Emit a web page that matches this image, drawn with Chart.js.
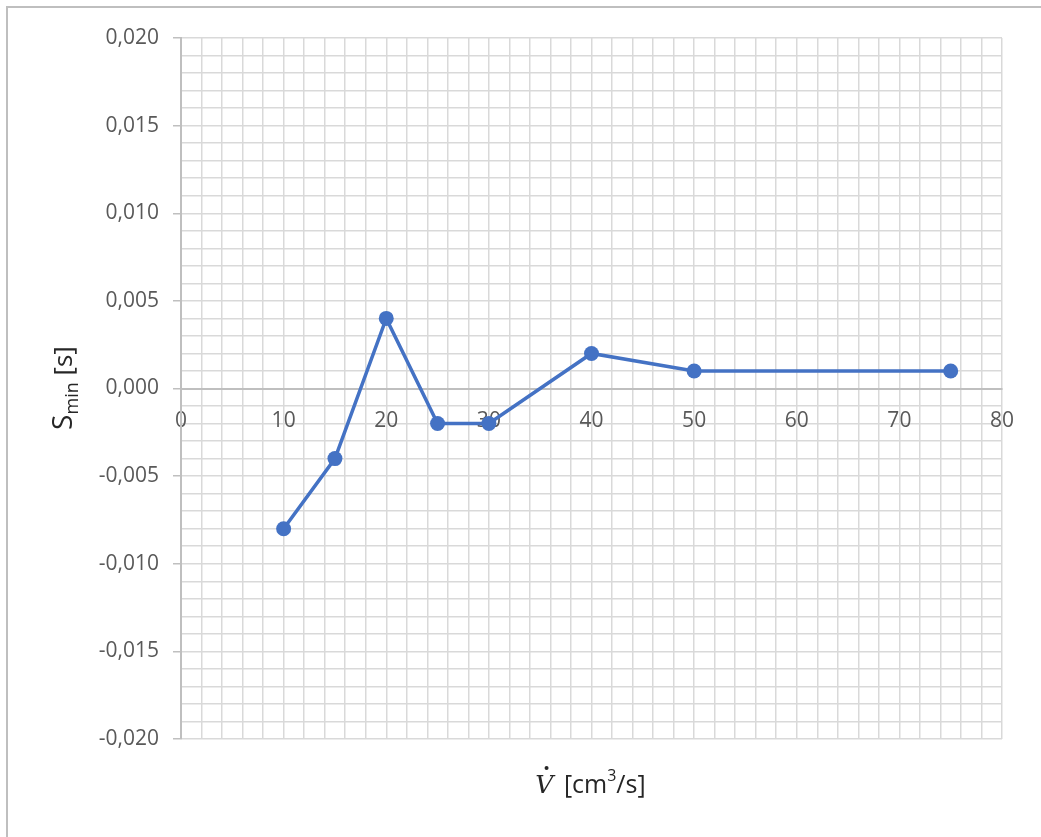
<!DOCTYPE html>
<html>
<head>
<meta charset="utf-8">
<script src="https://cdn.jsdelivr.net/npm/chart.js@4.4.1/dist/chart.umd.min.js"></script>
<style>
  html, body { margin: 0; padding: 0; background: #fff; }
  #wrap { position: relative; width: 1041px; height: 837px; }
</style>
</head>
<body>
<div id="wrap"><canvas id="chart" width="1041" height="837"></canvas></div>
<script>
// measured flow rates and the resulting S_min values
const flowRates = [10, 15, 20, 25, 30, 40, 50, 75];
const sMin = [-0.008, -0.004, 0.004, -0.002, -0.002, 0.002, 0.001, 0.001];

// axis ranges
const xMin = 0, xMax = 80, xStep = 2, xLabelEvery = 10;
const yMin = -0.020, yMax = 0.020, yStep = 0.001, yLabelEvery = 5;

const labelColor = "#595959";
const gridColor = "#d9d9d9";
const lineColor = "#4472c4";
const font = "'Open Sans', 'Liberation Sans', sans-serif";

const points = flowRates.map((x, i) => ({ x: x, y: sMin[i] }));

// axis titles with sub/superscripts, plus the frame lines
const titlesPlugin = {
  id: "titles",
  afterDraw(chart) {
    const ctx = chart.ctx;
    const area = chart.chartArea;
    ctx.save();

    // frame
    ctx.strokeStyle = "#bfbfbf";
    ctx.lineWidth = 2;
    ctx.beginPath();
    ctx.moveTo(7, 837);
    ctx.lineTo(7, 7);
    ctx.lineTo(1041, 7);
    ctx.stroke();

    ctx.fillStyle = "#262626";
    ctx.textBaseline = "alphabetic";

    // y title: S_min [s], rotated
    ctx.save();
    ctx.translate(72, 388);
    ctx.rotate(-Math.PI / 2);
    ctx.font = "28px " + font;
    const wS = ctx.measureText("S").width;
    ctx.font = "18px " + font;
    const wMin = ctx.measureText("min").width;
    ctx.font = "26px " + font;
    const wRest = ctx.measureText(" [s]").width;
    let x = -(wS + wMin + wRest) / 2;
    ctx.font = "28px " + font;
    ctx.fillText("S", x, 0);
    x += wS;
    ctx.font = "18px " + font;
    ctx.fillText("min", x, 6);
    x += wMin;
    ctx.font = "26px " + font;
    ctx.fillText(" [s]", x, 0);
    ctx.restore();

    // x title: V-dot [cm^3/s]
    const cx = (area.left + area.right) / 2 - 3;
    const by = 793;
    ctx.font = "italic 25px 'DejaVu Serif', 'Liberation Serif', serif";
    const wV = ctx.measureText("V").width;
    ctx.font = "25px " + font;
    const w1 = ctx.measureText(" [cm").width;
    ctx.font = "16px " + font;
    const w3 = ctx.measureText("3").width;
    ctx.font = "25px " + font;
    const w2 = ctx.measureText("/s]").width;
    let tx = cx - (wV + w1 + w3 + w2) / 2;
    ctx.font = "italic 25px 'DejaVu Serif', 'Liberation Serif', serif";
    ctx.fillText("V", tx, by);
    ctx.beginPath();
    ctx.arc(tx + wV * 0.62, by - 25, 2, 0, Math.PI * 2);
    ctx.fill();
    tx += wV + 4;
    ctx.font = "25px " + font;
    ctx.fillText(" [cm", tx, by);
    tx += w1;
    ctx.font = "16px " + font;
    ctx.fillText("3", tx, by - 12);
    tx += w3;
    ctx.font = "25px " + font;
    ctx.fillText("/s]", tx, by);

    ctx.restore();
  }
};

new Chart(document.getElementById("chart"), {
  type: "scatter",
  data: {
    datasets: [{
      data: points,
      showLine: true,
      borderColor: lineColor,
      backgroundColor: lineColor,
      borderWidth: 3.5,
      pointRadius: 7.5,
      pointHoverRadius: 7.5,
      pointBorderWidth: 0
    }]
  },
  options: {
    responsive: false,
    animation: false,
    layout: { padding: { left: 0, top: 38, right: 39, bottom: 98 } },
    plugins: { legend: { display: false }, tooltip: { enabled: false } },
    scales: {
      x: {
        type: "linear",
        min: xMin,
        max: xMax,
        position: { y: 0 },
        ticks: {
          stepSize: xStep,
          autoSkip: false,
          maxRotation: 0,
          padding: 20,
          color: labelColor,
          font: { family: font, size: 21 },
          callback: (v) => (Math.round(v) % xLabelEvery === 0 ? String(Math.round(v)) : "")
        },
        grid: {
          color: gridColor,
          lineWidth: 1.5,
          drawTicks: false
        },
        border: { color: "#bfbfbf", width: 2 }
      },
      y: {
        type: "linear",
        min: yMin,
        max: yMax,
        afterFit(scale) { scale.width = 181; },
        ticks: {
          stepSize: yStep,
          autoSkip: false,
          padding: 14,
          color: labelColor,
          font: { family: font, size: 21 },
          callback: (v) => {
            const n = Math.round(v * 1000);
            if (n % yLabelEvery !== 0) return "";
            return (n / 1000).toFixed(3).replace(".", ",");
          }
        },
        grid: {
          color: gridColor,
          lineWidth: 1.5,
          tickLength: 8,
          tickColor: (c) => (Math.round(c.tick.value * 1000) % yLabelEvery === 0 ? "#bfbfbf" : "rgba(0,0,0,0)")
        },
        border: { color: "#bfbfbf", width: 2 }
      }
    }
  },
  plugins: [titlesPlugin]
});
</script>
</body>
</html>
